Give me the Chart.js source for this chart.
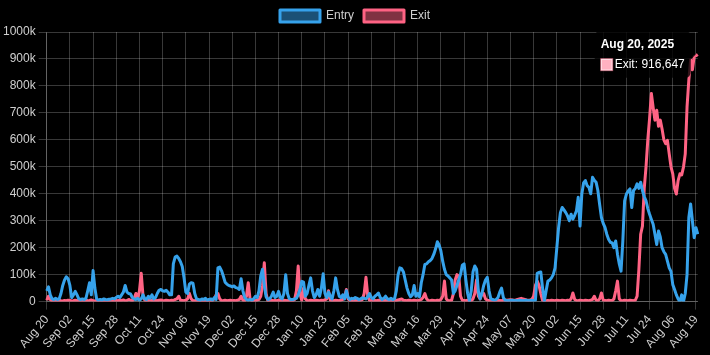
<!DOCTYPE html>
<html>
<head>
<meta charset="utf-8">
<script src="https://cdn.jsdelivr.net/npm/chart.js@4.4.1/dist/chart.umd.min.js"></script>
<style>
  html, body { margin: 0; padding: 0; background: #000; }
  #wrap { width: 710px; height: 355px; position: relative; }
</style>
</head>
<body>
<div id="wrap"><canvas id="c"></canvas></div>
<script>
// First day of the daily series (one value per day)
const startDate = [2024, 7, 20]; // Aug 20, 2024
const monthNames = ['Jan','Feb','Mar','Apr','May','Jun','Jul','Aug','Sep','Oct','Nov','Dec'];

const entryValues = [
40000,55000,25000,10000,8000,12000,8000,10000,30000,60000,
80000,92000,85000,60000,15000,25000,38000,25000,10000,8000,
10000,8000,12000,40000,70000,25000,115000,50000,10000,5000,
8000,6000,10000,8000,7000,9000,10000,12000,10000,15000,
20000,15000,25000,35000,60000,35000,30000,28000,15000,10000,
8000,12000,5000,10000,25000,10000,8000,20000,12000,25000,
10000,15000,30000,42000,45000,40000,38000,42000,35000,25000,
25000,140000,165000,169000,160000,148000,130000,88000,35000,30000,
65000,70000,68000,30000,10000,8000,5000,10000,8000,12000,
5000,8000,10000,6000,15000,8000,125000,128000,115000,95000,
72000,65000,60000,58000,55000,58000,52000,50000,45000,85000,
40000,15000,8000,5000,8000,5000,10000,20000,15000,40000,
95000,120000,60000,18000,8000,10000,20000,35000,15000,20000,
38000,15000,10000,30000,100000,30000,10000,8000,8000,10000,
12000,25000,45000,75000,72000,20000,30000,60000,88000,40000,
15000,25000,45000,20000,50000,103000,30000,15000,35000,20000,
10000,40000,88000,45000,20000,15000,25000,10000,40000,15000,
8000,12000,10000,15000,12000,8000,10000,14000,12000,10000,
18000,30000,15000,10000,20000,25000,32000,15000,8000,12000,
20000,10000,8000,12000,8000,10000,40000,100000,125000,122000,
110000,80000,50000,30000,18000,25000,60000,20000,30000,18000,
70000,100000,138000,140000,148000,152000,160000,175000,195000,222000,
210000,188000,150000,120000,100000,95000,88000,80000,30000,40000,
60000,80000,100000,135000,140000,80000,30000,2000,40000,110000,
132000,120000,40000,10000,30000,60000,80000,90000,40000,10000,
8000,5000,8000,15000,35000,50000,15000,5000,4000,3000,
4000,5000,3000,4000,3000,5000,4000,3000,4000,5000,
3000,4000,5000,4000,5000,105000,108000,110000,50000,2000,
40000,76000,80000,88000,100000,125000,200000,275000,330000,349000,
340000,330000,318000,300000,324000,306000,320000,337000,387000,280000,
399000,440000,449000,430000,424000,400000,461000,450000,443000,412000,
360000,312000,290000,275000,250000,231000,220000,218000,200000,225000,
176000,140000,113000,225000,374000,399000,410000,418000,349000,412000,
420000,437000,420000,443000,412000,390000,374000,345000,324000,305000,
287000,250000,212000,262000,240000,200000,185000,175000,150000,125000,
112000,63000,45000,25000,10000,0,25000,0,30000,100000,
312000,362000,300000,237000,274000,250000
];

const exitValues = [
5000,20000,8000,3000,2000,4000,3000,5000,3000,2000,
4000,3000,5000,4000,2000,3000,5000,4000,3000,2000,
4000,3000,5000,3000,4000,6000,3000,2000,4000,3000,
5000,3000,2000,4000,3000,5000,4000,3000,2000,4000,
3000,5000,4000,6000,3000,4000,8000,5000,3000,10000,
30000,10000,40000,105000,20000,5000,3000,4000,6000,3000,
5000,4000,3000,5000,6000,4000,3000,5000,4000,3000,
5000,4000,8000,10000,20000,5000,4000,3000,5000,10000,
30000,10000,4000,3000,5000,4000,3000,2000,4000,3000,
5000,4000,3000,5000,10000,25000,30000,10000,4000,3000,
5000,3000,4000,5000,3000,4000,3000,5000,8000,20000,
5000,3000,20000,70000,10000,3000,4000,3000,5000,8000,
20000,60000,144000,30000,3000,4000,5000,3000,4000,3000,
5000,4000,3000,5000,4000,3000,5000,4000,3000,8000,
40000,132000,30000,5000,50000,10000,4000,3000,5000,4000,
3000,5000,4000,3000,5000,4000,6000,10000,40000,5000,
4000,3000,5000,4000,3000,5000,8000,15000,45000,10000,
4000,3000,5000,4000,3000,5000,4000,8000,30000,90000,
20000,4000,3000,5000,4000,3000,5000,4000,3000,5000,
4000,3000,5000,4000,3000,5000,4000,6000,8000,10000,
5000,4000,3000,5000,4000,3000,5000,4000,3000,5000,
8000,15000,30000,10000,4000,3000,5000,4000,3000,5000,
4000,8000,20000,76000,10000,4000,3000,5000,30000,80000,
100000,95000,20000,5000,4000,3000,5000,4000,3000,10000,
30000,80000,20000,10000,30000,30000,10000,5000,4000,3000,
5000,4000,3000,5000,4000,3000,5000,6000,5000,6000,
7000,6000,5000,6000,8000,10000,12000,10000,8000,6000,
5000,6000,8000,20000,60000,76000,60000,30000,5000,2000,
3000,4000,3000,5000,4000,3000,5000,4000,3000,5000,
4000,3000,5000,4000,10000,32000,8000,4000,3000,5000,
4000,3000,5000,4000,3000,5000,8000,20000,5000,4000,
10000,32000,5000,4000,3000,5000,4000,3000,10000,40000,
76000,10000,4000,3000,5000,4000,3000,5000,4000,3000,
5000,20000,120000,250000,280000,420000,500000,600000,680000,772000,
720000,673000,710000,650000,673000,640000,600000,586000,598000,548000,
500000,474000,420000,399000,449000,474000,470000,499000,548000,722000,
822000,897000,860000,909000,912000,916647
];

const yTicks = [0,100000,200000,300000,400000,500000,600000,700000,800000,900000,1000000];

// Category labels: one per day
const tickLabels = [];
const fullDates = [];
for (let i = 0; i < entryValues.length; i++) {
  const d = new Date(Date.UTC(startDate[0], startDate[1], startDate[2] + i));
  const dd = String(d.getUTCDate()).padStart(2, '0');
  tickLabels.push(monthNames[d.getUTCMonth()] + ' ' + dd);
  fullDates.push(monthNames[d.getUTCMonth()] + ' ' + dd + ', ' + d.getUTCFullYear());
}

const gridColor = 'rgba(255,255,255,0.22)';
const textColor = '#cfcfcf';

const chart = new Chart(document.getElementById('c'), {
  type: 'line',
  data: {
    labels: tickLabels,
    datasets: [
      {
        label: 'Entry',
        data: entryValues,
        borderColor: '#36A2EB',
        backgroundColor: 'rgba(54,162,235,0.5)',
        borderWidth: 3,
        borderJoinStyle: 'round',
        pointRadius: 0,
        pointHoverRadius: 0,
        tension: 0
      },
      {
        label: 'Exit',
        data: exitValues,
        borderColor: '#FF6384',
        backgroundColor: 'rgba(255,99,132,0.5)',
        borderWidth: 3,
        borderJoinStyle: 'round',
        pointRadius: 0,
        pointHoverRadius: 0,
        tension: 0
      }
    ]
  },
  options: {
    responsive: true,
    maintainAspectRatio: false,
    animation: false,
    plugins: {
      legend: {
        labels: { color: textColor, font: { size: 12 } }
      },
      tooltip: {
        callbacks: {
          title: (items) => fullDates[items[0].dataIndex],
          labelColor: (ctx) => ({
            borderColor: 'rgba(255,99,132,0.5)',
            backgroundColor: 'rgba(255,99,132,0.5)',
            borderWidth: 1
          })
        }
      }
    },
    scales: {
      x: {
        grid: { color: gridColor },
        border: { color: gridColor },
        ticks: { color: textColor, maxRotation: 50, autoSkip: true }
      },
      y: {
        min: 0,
        max: 1000000,
        grid: { color: gridColor },
        border: { color: gridColor },
        afterBuildTicks: (axis) => { axis.ticks = yTicks.map(v => ({ value: v })); },
        ticks: {
          color: textColor,
          callback: (v) => v === 0 ? '0' : (v / 1000) + 'k'
        }
      }
    }
  }
});

chart.tooltip.setActiveElements([{ datasetIndex: 1, index: exitValues.length - 1 }], { x: 0, y: 0 });
chart.update();
</script>
</body>
</html>
